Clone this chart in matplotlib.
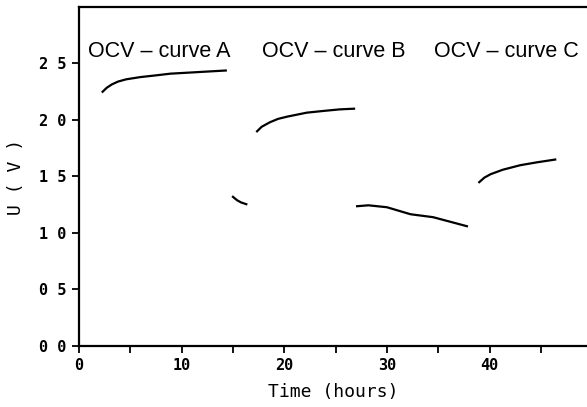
import matplotlib
matplotlib.use("Agg")
import matplotlib.pyplot as plt

# OCV curves (time in hours, voltage in V)
tA = [2.3, 2.7, 3.2, 3.8, 4.6, 6.0, 7.5, 8.9, 11.8, 14.3]
uA = [2.25, 2.285, 2.315, 2.34, 2.36, 2.38, 2.395, 2.41, 2.425, 2.438]

tB1 = [15.0, 15.4, 15.8, 16.3]
uB1 = [1.32, 1.29, 1.27, 1.255]
tB = [17.35, 17.8, 18.6, 19.4, 20.3, 22.2, 23.8, 25.4, 26.8]
uB = [1.90, 1.94, 1.98, 2.01, 2.03, 2.065, 2.08, 2.094, 2.10]

tC1 = [27.1, 28.2, 30.0, 32.3, 34.5, 37.8]
uC1 = [1.237, 1.245, 1.228, 1.166, 1.14, 1.06]
tC = [39.0, 39.5, 40.1, 40.7, 41.3, 43.0, 44.6, 46.4]
uC = [1.45, 1.49, 1.52, 1.54, 1.56, 1.60, 1.625, 1.65]

labels = ["OCV \u2013 curve A", "OCV \u2013 curve B", "OCV \u2013 curve C"]
label_x = [0.85, 17.8, 34.6]
label_y = 2.61

xticks = [0, 10, 20, 30, 40]
xticklabels = ["0", "10", "20", "30", "40"]
yticks = [0.0, 0.5, 1.0, 1.5, 2.0, 2.5]
yticklabels = ["0 0", "0 5", "1 0", "1 5", "2 0", "2 5"]

fig = plt.figure(figsize=(5.87, 4.07), dpi=100)
ax = fig.add_axes([0.1346, 0.1499, 0.8654, 0.8329])

for t, u in [(tA, uA), (tB1, uB1), (tB, uB), (tC1, uC1), (tC, uC)]:
    ax.plot(t, u, color="black", lw=1.6, solid_joinstyle="round")

for s, x in zip(labels, label_x):
    ax.text(x, label_y, s, fontsize=15.5, family="Liberation Sans",
            ha="left", va="center")

ax.set_xlim(0, 49.5)
ax.set_ylim(0, 3.0)
ax.spines["right"].set_visible(False)
for sp in ["left", "top", "bottom"]:
    ax.spines[sp].set_linewidth(1.6)

ax.set_xticks(xticks)
ax.set_xticklabels(xticklabels)
ax.set_xticks([5, 15, 25, 35, 45], minor=True)
ax.set_yticks(yticks)
ax.set_yticklabels(yticklabels)

for lab in ax.get_xticklabels() + ax.get_yticklabels():
    lab.set_fontfamily("DejaVu Sans Mono")
    lab.set_fontweight("bold")
    lab.set_fontsize(11)
ax.tick_params(axis="both", which="both", direction="out", length=5,
               width=1.3, pad=4)

ax.set_xlabel("Time (hours)", fontsize=13, family="DejaVu Sans Mono",
              labelpad=7)
ax.set_ylabel("U ( V )", fontsize=13, family="DejaVu Sans Mono",
              labelpad=10)

fig.savefig("out.png", dpi=100)
